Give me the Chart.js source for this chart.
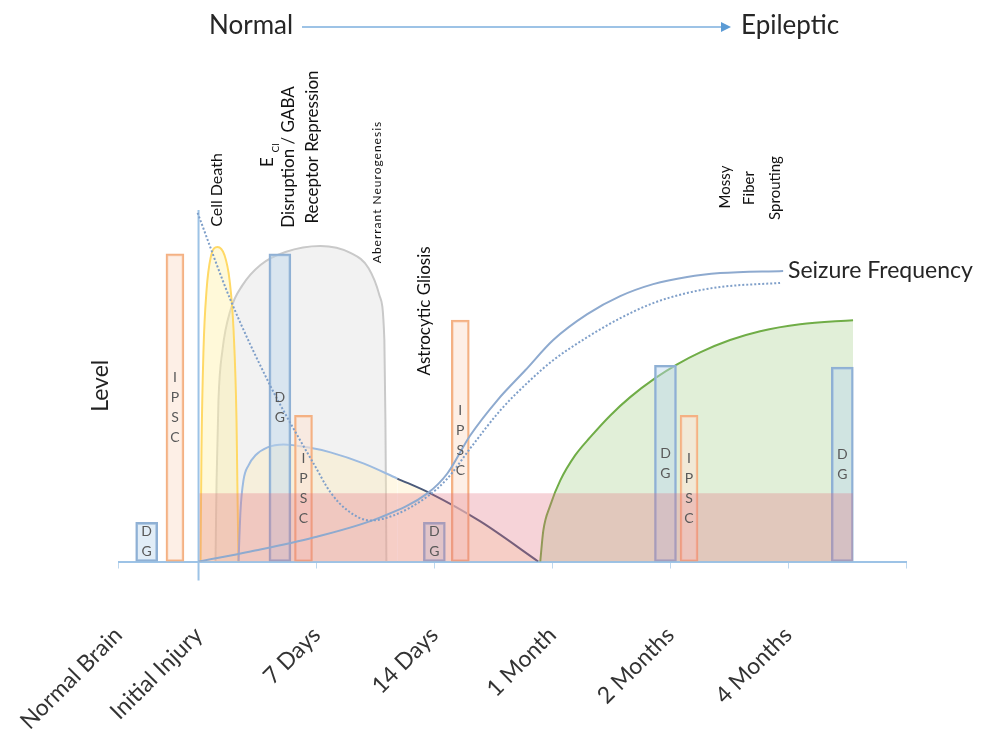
<!doctype html>
<html>
<head>
  <title>Normal to Epileptic</title>
  <script src="https://cdn.jsdelivr.net/npm/chart.js@4.4.0/dist/chart.umd.min.js"></script>
  <style>
    html, body { margin: 0; padding: 0; background: #fff; }
    .chart { width: 987px; height: 747px; }
  </style>
</head>
<body>
  <div class="chart"><canvas id="myChart"></canvas></div>
  <script>
    // x: one step per stage (Initial Injury = 1 ... 4 Months = 6), y: level 0-100
    var tickLabels = ['Normal Brain', 'Initial Injury', '7 Days', '14 Days', '1 Month', '2 Months', '4 Months', ''];
    var tickPos = [0.32, 1, 2, 3, 4, 5, 6, 7];

    // DG / IPSC measurements
    var dgX = [0.56, 1.69, 3.00, 4.96, 6.46];
    var dgLevel = [12.4, 97.5, 12.4, 62.2, 61.6];
    var ipscX = [0.80, 1.89, 3.22, 5.16];
    var ipscLevel = [97.5, 46.3, 76.5, 46.3];

    // cell death
    var cellX = [1.017, 1.025, 1.042, 1.068, 1.102, 1.161, 1.220, 1.263, 1.297, 1.322, 1.331, 1.339];
    var cellY = [0, 35.2, 67.0, 86.0, 96.2, 99.7, 97.1, 89.2, 73.3, 44.8, 19.4, 0];

    // E_Cl disruption / aberrant neurogenesis (grey)
    var neuroX = [1.144, 1.153, 1.169, 1.203, 1.271, 1.373, 1.525, 1.737, 2.034, 2.288, 2.441, 2.534, 2.576, 2.585, 2.593];
    var neuroY = [0, 25.7, 51.1, 67.0, 79.7, 87.6, 94.0, 98.1, 100, 97.8, 93.0, 84.4, 70.2, 44.8, 0];

    // astrocytic gliosis
    var gliosisX = [1.339, 1.356, 1.381, 1.424, 1.483, 1.585, 1.720, 1.924, 2.119, 2.398, 2.686, 2.966, 3.390, 3.881];
    var gliosisY = [0, 16.2, 25.7, 30.5, 33.7, 36.2, 37.1, 36.2, 34.6, 31.1, 26.3, 21.6, 12.7, 0];

    // mossy fiber sprouting
    var mossyX = [3.898, 3.924, 3.983, 4.068, 4.195, 4.322, 4.492, 4.661, 4.873, 5.059, 5.254, 5.508, 5.763, 6.102, 6.551];
    var mossyY = [0, 9.8, 17.8, 25.7, 33.7, 39.4, 46.3, 52.1, 58.1, 62.5, 66.3, 70.2, 73.0, 75.2, 76.5];

    // background band
    var bandX = [1.0, 6.55];
    var bandY = [21.6, 21.6];

    // seizure frequency (two courses)
    var seizureX = [1.0, 1.441, 1.975, 2.542, 2.941, 3.110, 3.305, 3.534, 3.771, 4.008, 4.297, 4.576, 4.856, 5.144, 5.424, 5.958];
    var seizureY = [0, 3.2, 7.6, 14.0, 21.6, 27.9, 40.0, 51.1, 60.6, 70.2, 78.4, 84.1, 87.9, 90.2, 91.4, 92.1];
    var seizure2X = [0.992, 1.271, 1.610, 1.780, 1.975, 2.119, 2.263, 2.458, 2.653, 2.941, 3.110, 3.305, 3.559, 3.814, 4.008, 4.297, 4.576, 4.856, 5.144, 5.424, 5.932];
    var seizure2Y = [110.5, 82.9, 55.6, 43.8, 31.1, 21.9, 16.2, 13.0, 14.6, 20.6, 26.3, 35.9, 47.9, 57.5, 63.8, 71.1, 77.1, 81.9, 85.1, 87.0, 88.3];

    // vertical axis at the injury
    var injuryAxisX = [1, 1];
    var injuryAxisY = [111.4, -6];

    function pts(xs, ys) {
      return xs.map(function(x, i) { return {x: x, y: ys[i]}; });
    }

    function area(label, xs, ys, border, fill, order) {
      return {
        type: 'line', label: label, data: pts(xs, ys), order: order,
        borderColor: border, backgroundColor: fill, borderWidth: 2,
        fill: 'origin', pointRadius: 0, cubicInterpolationMode: 'monotone'
      };
    }

    var gliosis = area('Astrocytic Gliosis', gliosisX, gliosisY, '#9dbbe0', 'rgba(255,236,180,0.35)', 8);
    gliosis.segment = {
      borderColor: function(c) { return c.p0.parsed.x >= 2.6 ? '#4a5a7a' : '#9dbbe0'; }
    };

    var FONT = 'Lato, "Open Sans", sans-serif';

    function vText(ctx, txt, x, y, size, spacing) {
      ctx.save();
      ctx.translate(x, y);
      ctx.rotate(-Math.PI / 2);
      ctx.font = size + 'px ' + FONT;
      if (spacing) ctx.letterSpacing = spacing;
      ctx.textAlign = 'center';
      ctx.textBaseline = 'middle';
      ctx.fillText(txt, 0, 0);
      ctx.restore();
    }

    var notes = {
      id: 'notes',
      afterDatasetsDraw: function(chart) {
        var ctx = chart.ctx;
        // letters inside the bars
        [['D', 'G'], ['I', 'P', 'S', 'C']].forEach(function(letters, k) {
          var meta = chart.getDatasetMeta(k === 0 ? 4 : 5);
          meta.data.forEach(function(el) {
            var mid = (el.y + el.base) / 2;
            ctx.save();
            ctx.font = '14px ' + FONT;
            ctx.fillStyle = '#595959';
            ctx.textAlign = 'center';
            ctx.textBaseline = 'middle';
            letters.forEach(function(l, i) {
              ctx.fillText(l, el.x, mid + (i - (letters.length - 1) / 2) * 20);
            });
            ctx.restore();
          });
        });
      },
      afterDraw: function(chart) {
        var ctx = chart.ctx;
        ctx.save();
        ctx.fillStyle = '#111';
        vText(ctx, 'Cell Death', 217, 190, 16);
        vText(ctx, 'E', 268, 162, 17);
        vText(ctx, 'Cl', 276, 148, 10);
        vText(ctx, 'Disruption / GABA', 289, 157, 17);
        vText(ctx, 'Receptor Repression', 313, 147, 17);
        vText(ctx, 'Aberrant Neurogenesis', 377, 192, 12, '1px');
        vText(ctx, 'Astrocytic Gliosis', 425, 311, 17);
        vText(ctx, 'Mossy', 725, 187, 15);
        vText(ctx, 'Fiber', 749, 188, 15);
        vText(ctx, 'Sprouting', 775, 188, 15);

        ctx.fillStyle = '#262626';
        ctx.textAlign = 'left';
        ctx.textBaseline = 'middle';
        ctx.font = '23px ' + FONT;
        ctx.fillText('Seizure Frequency', 788, 271);
        ctx.font = '26px ' + FONT;
        ctx.fillText('Normal', 209, 26);
        ctx.fillText('Epileptic', 741, 26);

        // arrow Normal -> Epileptic
        ctx.strokeStyle = '#9dc3e6';
        ctx.lineWidth = 2;
        ctx.beginPath();
        ctx.moveTo(302, 27);
        ctx.lineTo(722, 27);
        ctx.stroke();
        ctx.fillStyle = '#5b9bd5';
        ctx.beginPath();
        ctx.moveTo(731, 27);
        ctx.lineTo(721, 22);
        ctx.lineTo(721, 32);
        ctx.closePath();
        ctx.fill();
        ctx.restore();
      }
    };

    var config = {
      type: 'line',
      data: {
        datasets: [
          area('Aberrant Neurogenesis', neuroX, neuroY, '#c9c9c9', 'rgba(217,217,217,0.35)', 10),
          area('Cell Death', cellX, cellY, '#ffd966', 'rgba(255,242,170,0.45)', 9),
          gliosis,
          area('Mossy Fiber Sprouting', mossyX, mossyY, '#70ad47', 'rgba(169,209,142,0.35)', 7),
          {
            type: 'bar', label: 'DG', data: pts(dgX, dgLevel), order: 6, grouped: false,
            barThickness: 22, borderWidth: 2, borderColor: '#8fb0d4',
            backgroundColor: 'rgba(189,215,238,0.45)', borderSkipped: false
          },
          {
            type: 'bar', label: 'IPSC', data: pts(ipscX, ipscLevel), order: 5, grouped: false,
            barThickness: 18, borderWidth: 2, borderColor: '#f4b183',
            backgroundColor: 'rgba(251,229,214,0.6)', borderSkipped: false
          },
          {
            type: 'line', label: 'band', data: pts(bandX, bandY), order: 4,
            borderWidth: 0, borderColor: 'rgba(0,0,0,0)', backgroundColor: 'rgba(226,110,125,0.3)',
            fill: 'origin', pointRadius: 0
          },
          {
            type: 'line', label: 'axis', data: pts(injuryAxisX, injuryAxisY), order: 3,
            borderColor: '#9dc3e6', borderWidth: 2, pointRadius: 0, fill: false, clip: false
          },
          {
            type: 'line', label: 'Seizure Frequency', data: pts(seizureX, seizureY), order: 2,
            borderColor: '#8eaacf', borderWidth: 2, pointRadius: 0, fill: false,
            cubicInterpolationMode: 'monotone'
          },
          {
            type: 'line', label: 'Seizure Frequency 2', data: pts(seizure2X, seizure2Y), order: 1,
            borderColor: '#7f9fc9', borderWidth: 2, borderDash: [2, 2], pointRadius: 0, fill: false,
            cubicInterpolationMode: 'monotone', clip: false
          }
        ]
      },
      options: {
        responsive: true,
        maintainAspectRatio: false,
        animation: false,
        layout: {
          padding: {left: 83, right: 81, top: 210, bottom: -41}
        },
        scales: {
          x: {
            type: 'linear',
            offset: false,
            min: 0.322,
            max: 7,
            afterBuildTicks: function(scale) {
              scale.ticks = tickPos.map(function(v) { return {value: v}; });
            },
            afterFit: function(scale) {
              // the rotated first label may hang out to the left
              scale.paddingLeft = 0;
              scale.paddingRight = 0;
            },
            ticks: {
              autoSkip: false,
              minRotation: 45,
              maxRotation: 45,
              padding: 53,
              color: '#333',
              font: {family: FONT, size: 23},
              callback: function(value, index) { return tickLabels[index]; }
            },
            grid: {offset: false, drawOnChartArea: false, tickLength: 7, color: '#bdd7ee'},
            border: {color: '#9dc3e6', width: 2}
          },
          y: {
            min: 0,
            max: 111.4,
            ticks: {display: false},
            grid: {display: false, drawTicks: false},
            border: {display: false},
            title: {display: true, text: 'Level', color: '#222', font: {family: FONT, size: 23}}
          }
        },
        plugins: {
          legend: {display: false},
          tooltip: {enabled: false}
        }
      },
      plugins: [notes]
    };

    window.onload = function() {
      var ctx = document.getElementById('myChart').getContext('2d');
      window.myChart = new Chart(ctx, config);
    };
  </script>
</body>
</html>
